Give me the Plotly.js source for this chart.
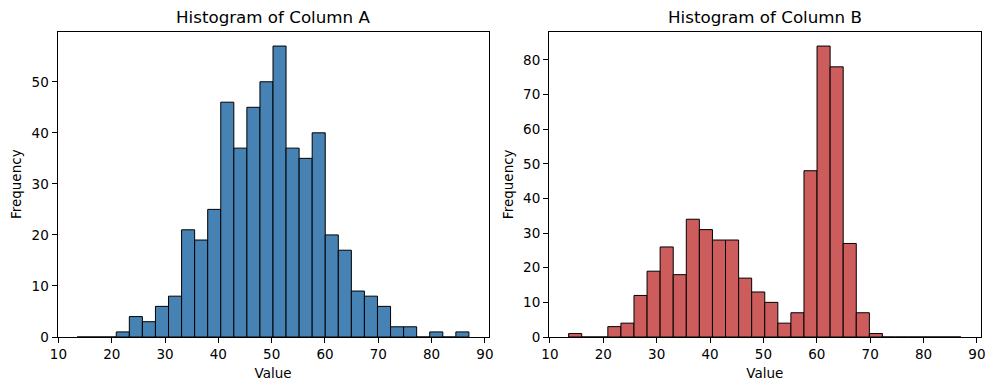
<!DOCTYPE html>
<html>
<head>
<meta charset="utf-8">
<script src="https://cdn.plot.ly/plotly-3.0.1.min.js"></script>
<style>html,body{margin:0;padding:0;background:#fff;}#chart{width:995px;height:390px;}</style>
</head>
<body>
<div id="chart"></div>
<script>
// Bin layout (30 equal bins shared by both histograms)
const binStart = 13.5;
const binWidth = 2.45;
const countsA = [0,0,0,1,4,3,6,8,21,19,25,46,37,45,50,57,37,35,40,20,17,9,8,6,2,2,0,1,0,1];
const countsB = [1,0,0,3,4,12,19,26,18,34,31,28,28,17,13,10,4,7,48,84,78,27,7,1,0,0,0,0,0,0];
const titles = ["Histogram of Column A", "Histogram of Column B"];
const xTicks = [10,20,30,40,50,60,70,80,90];

const centers = countsA.map((_, i) => binStart + binWidth * (i + 0.5));
const font = "DejaVu Sans, sans-serif";

const traces = [
  {type:'bar', x:centers, y:countsA, width:binWidth, xaxis:'x', yaxis:'y',
   marker:{color:'#4682B4', line:{color:'#000', width:1}}, hoverinfo:'x+y'},
  {type:'bar', x:centers, y:countsB, width:binWidth, xaxis:'x2', yaxis:'y2',
   marker:{color:'#CD5C5C', line:{color:'#000', width:1}}, hoverinfo:'x+y'}
];

const lo = binStart, hi = binStart + binWidth * countsA.length;
const pad = (hi - lo) * 0.05;
const W = 995, H = 390;

function xax(domain){
  return {domain:domain, range:[lo-pad, hi+pad], tickvals:xTicks, ticks:'outside', ticklen:5, tickwidth:1,
    tickcolor:'#000', showline:true, linecolor:'#000', linewidth:1, mirror:true, showgrid:false, zeroline:false,
    tickfont:{family:font, size:13.5, color:'#000'},
    title:{text:'Value', font:{family:font, size:13.5, color:'#000'}, standoff:7}};
}
function yax(maxv, anchor){
  return {domain:[1-337/H, 1-31.5/H], range:[0, maxv*1.05], dtick:10, ticks:'outside', ticklen:5, tickwidth:1,
    tickcolor:'#000', showline:true, linecolor:'#000', linewidth:1, mirror:true, showgrid:false, zeroline:false,
    tickfont:{family:font, size:13.5, color:'#000'}, anchor:anchor,
    title:{text:'Frequency', font:{family:font, size:13.5, color:'#000'}, standoff:6}};
}

const layout = {
  width:W, height:H, margin:{l:0,r:0,t:0,b:0}, showlegend:false,
  paper_bgcolor:'#fff', plot_bgcolor:'#fff', bargap:0,
  xaxis:Object.assign(xax([57.5/W, 488.5/W]), {anchor:'y'}),
  yaxis:yax(Math.max(...countsA), 'x'),
  xaxis2:Object.assign(xax([549/W, 980.5/W]), {anchor:'y2'}),
  yaxis2:yax(Math.max(...countsB), 'x2'),
  annotations:[
    {text:titles[0], xref:'paper', yref:'paper', x:(57.5+488.5)/2/W, y:1-17.5/H, xanchor:'center', yanchor:'middle', showarrow:false,
     font:{family:font, size:16.7, color:'#000'}},
    {text:titles[1], xref:'paper', yref:'paper', x:(549+980.5)/2/W, y:1-17.5/H, xanchor:'center', yanchor:'middle', showarrow:false,
     font:{family:font, size:16.7, color:'#000'}}
  ]
};

Plotly.newPlot('chart', traces, layout, {displayModeBar:false, staticPlot:true});
</script>
</body>
</html>
